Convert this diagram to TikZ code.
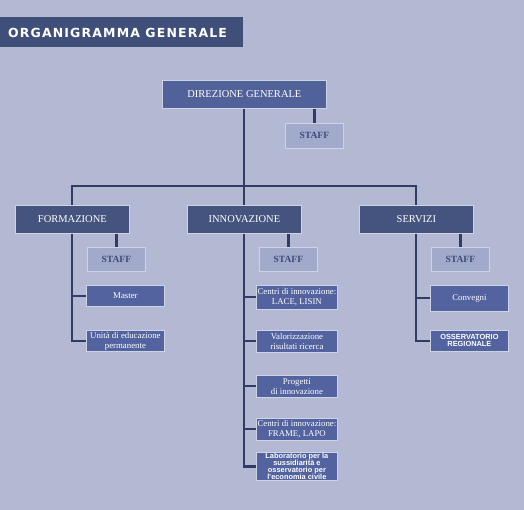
\documentclass[tikz,border=0pt]{standalone}
\usepackage{fontspec}
\setmainfont{Liberation Serif}
\newfontfamily\titlefont[LetterSpace=9]{DejaVu Sans}
\newfontfamily\arialfont{Liberation Sans}
\definecolor{bgc}{HTML}{B3B9D3}
\definecolor{titlec}{HTML}{3F4F7A}
\definecolor{dirc}{HTML}{51619A}
\definecolor{depc}{HTML}{44547F}
\definecolor{subc}{HTML}{5363A0}
\definecolor{staffc}{HTML}{A1AACB}
\definecolor{edgec}{HTML}{CDD2E4}
\definecolor{linec}{HTML}{2F3D66}
\definecolor{stafftxt}{HTML}{3A4A78}
\begin{document}
\begin{tikzpicture}[x=1pt,y=-1pt,
  boxbase/.style={draw=edgec,line width=0.8pt,inner sep=0pt,anchor=north west,align=center},
  dirbox/.style={boxbase,fill=dirc,text=white,font=\fontsize{10.5}{12}\selectfont},
  depbox/.style={boxbase,fill=depc,text=white,font=\fontsize{10.5}{12}\selectfont},
  staffbox/.style={boxbase,fill=staffc,text=stafftxt,font=\bfseries\fontsize{9.5}{12}\selectfont},
  subbox/.style={boxbase,fill=subc,text=white,font=\fontsize{8.8}{10}\selectfont},
  sansbox/.style={boxbase,fill=subc,text=white,font=\arialfont\bfseries\fontsize{7.4}{7}\selectfont},
  conn/.style={draw=linec,line width=2.4pt},
  thin/.style={draw=linec,line width=2pt}]
\useasboundingbox (0,0) rectangle (524,510);
\fill[bgc] (0,0) rectangle (524,510);
% title
\node[fill=titlec,text=white,anchor=north west,minimum width=243pt,minimum height=30pt,inner sep=0pt] (title) at (0,17) {};
\node[text=white,anchor=west,inner sep=0pt,font=\titlefont\bfseries\fontsize{12.5}{13}\selectfont] (titletxt) at (8,32.5) {ORGANIGRAMMA GENERALE};
% top
\node[dirbox,minimum width=164pt,minimum height=28pt] (dir) at (162,80) {DIREZIONE GENERALE};
\node[staffbox,minimum width=58pt,minimum height=25pt] (s0) at (285,123) {STAFF};
% departments
\node[depbox,minimum width=114pt,minimum height=28pt] (form) at (15,205) {FORMAZIONE};
\node[depbox,minimum width=114pt,minimum height=28pt] (inno) at (187,205) {INNOVAZIONE};
\node[depbox,minimum width=114pt,minimum height=28pt] (serv) at (359,205) {SERVIZI};
\node[staffbox,minimum width=58pt,minimum height=24pt] (s1) at (87,247) {STAFF};
\node[staffbox,minimum width=58pt,minimum height=24pt] (s2) at (259,247) {STAFF};
\node[staffbox,minimum width=58pt,minimum height=24pt] (s3) at (431,247) {STAFF};
% formazione children
\node[subbox,minimum width=78pt,minimum height=21pt] (f1) at (86,285) {Master};
\node[subbox,minimum width=78pt,minimum height=21pt] (f2) at (86,330) {Unità di educazione\\permanente};
% innovazione children
\node[subbox,minimum width=81pt,minimum height=24pt] (i1) at (256,285) {Centri di innovazione:\\LACE, LISIN};
\node[subbox,minimum width=81pt,minimum height=22pt] (i2) at (256,330) {Valorizzazione\\risultati ricerca};
\node[subbox,minimum width=81pt,minimum height=22pt] (i3) at (256,375) {Progetti\\di innovazione};
\node[subbox,minimum width=81pt,minimum height=22pt] (i4) at (256,418) {Centri di innovazione:\\FRAME, LAPO};
\node[sansbox,minimum width=81pt,minimum height=28pt] (i5) at (256,452) {Laboratorio per la\\sussidiarità e\\osservatorio per\\l'economia civile};
% servizi children
\node[subbox,minimum width=78pt,minimum height=26pt] (c1) at (430,285) {Convegni};
\node[sansbox,minimum width=78pt,minimum height=21pt] (c2) at (430,330) {OSSERVATORIO\\REGIONALE};
% connectors
\coordinate (bl) at (72,186);
\coordinate (bm) at (244,186);
\coordinate (br) at (416,186);
\draw[conn] (dir.south -| bm) -- (bm);
\draw[conn,line cap=rect] (bl) -- (br);
\draw[conn] (bl) -- (form.north -| bl);
\draw[conn] (br) -- (serv.north -| br);
\draw[conn] (bm) -- (inno.north -| bm);
\draw[conn] (dir.south -| s0.north) -- (s0.north);
\draw[conn] (form.south -| s1.north) -- (s1.north);
\draw[conn] (inno.south -| s2.north) -- (s2.north);
\draw[conn] (serv.south -| s3.north) -- (s3.north);
% branches
\draw[conn] (form.south -| bl) |- (f2.west);
\draw[thin] (f1.west -| bl) -- (f1.west);
\draw[conn] (inno.south -| bm) |- (i5.west);
\foreach \n in {i1,i2,i3,i4} \draw[thin] (\n.west -| bm) -- (\n.west);
\draw[conn] (serv.south -| br) |- (c2.west);
\draw[thin] (c1.west -| br) -- (c1.west);
\end{tikzpicture}
\end{document}
